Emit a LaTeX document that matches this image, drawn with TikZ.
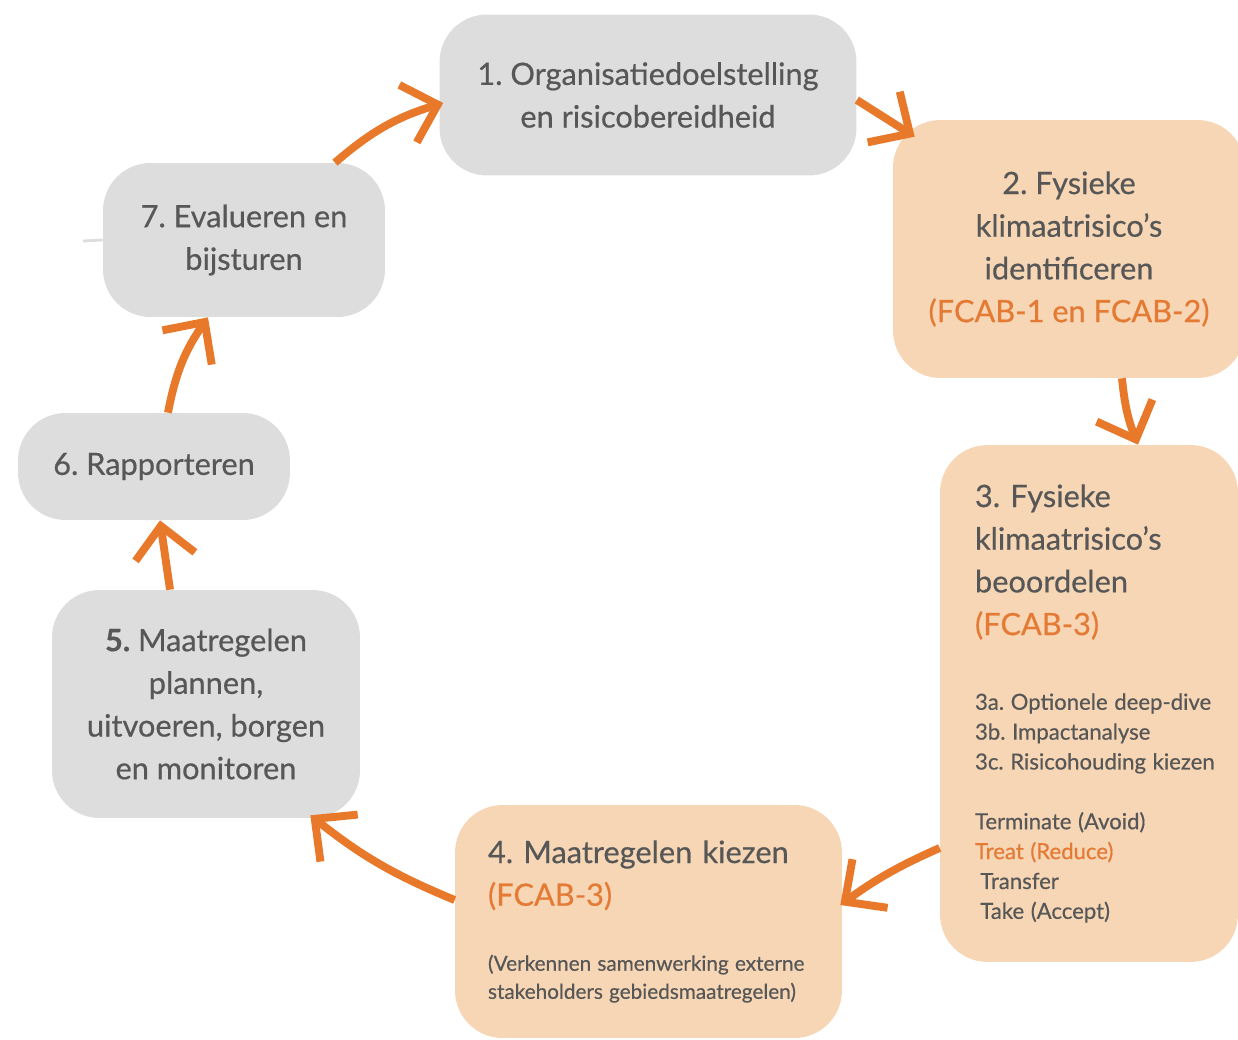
\documentclass[tikz,border=0pt]{standalone}
\usepackage{fontspec}
\setmainfont{Lato}[FakeBold=0.5]
\usetikzlibrary{arrows.meta}

\definecolor{stepgray}{HTML}{DDDDDD}
\definecolor{steporange}{HTML}{F7D6B5}
\definecolor{arroworange}{HTML}{E8792B}
\definecolor{textgray}{HTML}{575757}
\definecolor{textorange}{HTML}{E47A34}

\newcommand{\fcab}[1]{\textcolor{textorange}{#1}}
\newcommand{\bigtext}{\fontsize{17.5}{24.3}\selectfont}
\newcommand{\smalltext}{\fontsize{12.6}{17}\selectfont\spaceskip=0.3em\relax}
\newcommand{\notetext}{\fontsize{11.8}{16}\selectfont\spaceskip=0.3em\relax}

\tikzset{
  stepbox/.style={rounded corners=0.95cm, inner sep=0pt, align=center,
    text=textgray, font=\bigtext\frenchspacing},
  graybox/.style={stepbox, fill=stepgray},
  orangebox/.style={stepbox, fill=steporange},
  cycle/.style={draw=arroworange, line width=4.5pt,
    -{Straight Barb[length=0.62cm, width=1.2cm]}},
  stub/.style={draw=stepgray, line width=1.6pt},
}

\begin{document}
\begin{tikzpicture}[x=0.02cm, y=-0.02cm]
  \useasboundingbox (0,0) rectangle (1238,1040);
  \clip (0,0) rectangle (1238,1040);

  % steps of the cycle
  \node[graybox, minimum width=8.34cm, minimum height=3.22cm] (n1) at (648,95)
    {1. Organisatiedoelstelling\\ en risicobereidheid};
  \node[orangebox, minimum width=7.04cm, minimum height=5.16cm] (n2) at (1069,249)
    {2. Fysieke\\ klimaatrisico’s\\ identificeren\\ \fcab{(FCAB-1 en FCAB-2)}};
  \node[orangebox, align=left, minimum width=5.96cm, minimum height=10.34cm,
        text width=5.7cm, inner xsep=0.13cm] (n3) at (1089,703.5)
    {\leftskip=0.57cm
     {\bigtext 3. Fysieke\\ klimaatrisico’s\\ beoordelen\\ \fcab{(FCAB-3)}\par}
     \vspace{25.5pt}
     {\smalltext 3a. Optionele deep-dive\\ 3b. Impactanalyse\\ 3c. Risicohouding kiezen\par}
     \vspace{17pt}
     {\smalltext Terminate (Avoid)\\ \fcab{Treat (Reduce)}\\ \hspace*{3pt}Transfer\\ \hspace*{3pt}Take (Accept)\par}};
  \node[orangebox, align=left, minimum width=7.74cm, minimum height=4.66cm,
        text width=7.4cm, inner xsep=0.17cm] (n4) at (648.5,921.5)
    {\leftskip=0.49cm
     {\bigtext 4. Maatregelen kiezen\\ \fcab{(FCAB-3)}\par}
     \vspace{21pt}
     {\notetext (Verkennen samenwerking externe\\ stakeholders gebiedsmaatregelen)\par}};
  \node[graybox, minimum width=6.16cm, minimum height=4.56cm] (n5) at (206,704)
    {\textbf{5.} Maatregelen\\ plannen,\\ uitvoeren, borgen\\ en monitoren};
  \node[graybox, minimum width=5.44cm, minimum height=2.14cm] (n6) at (154,466.5)
    {6. Rapporteren};
  \node[graybox, minimum width=5.64cm, minimum height=3.08cm] (n7) at (244,240)
    {7. Evalueren en\\ bijsturen};

  \coordinate (stubend) at (83,241);
  \draw[stub] (n7.west) -- (stubend);

  % arrows
  \draw[cycle] ([xshift=1.82cm]n7.north) to[bend left=12] ([xshift=0.08cm,yshift=-0.16cm]n1.west);
  \draw[cycle] ([yshift=-0.1cm]n1.east) -- ([xshift=0.44cm,yshift=-0.34cm]n2.north west);
  \draw[cycle] ([xshift=1.06cm]n2.south) to[bend right=8] ([xshift=0.98cm]n3.north);
  \draw[cycle] ([yshift=-2.89cm]n3.west) to[bend right=6] ([xshift=-0.04cm,yshift=0.33cm]n4.east);
  \draw[cycle] ([yshift=0.43cm]n4.west) to[bend left=8] ([xshift=-1.0cm,yshift=0.06cm]n5.south east);
  \draw[cycle] ([xshift=-0.72cm]n5.north) -- ([xshift=0.12cm]n6.south);
  \draw[cycle] ([xshift=0.28cm]n6.north) to[bend left=12] ([xshift=-0.72cm]n7.south);
\end{tikzpicture}
\end{document}
